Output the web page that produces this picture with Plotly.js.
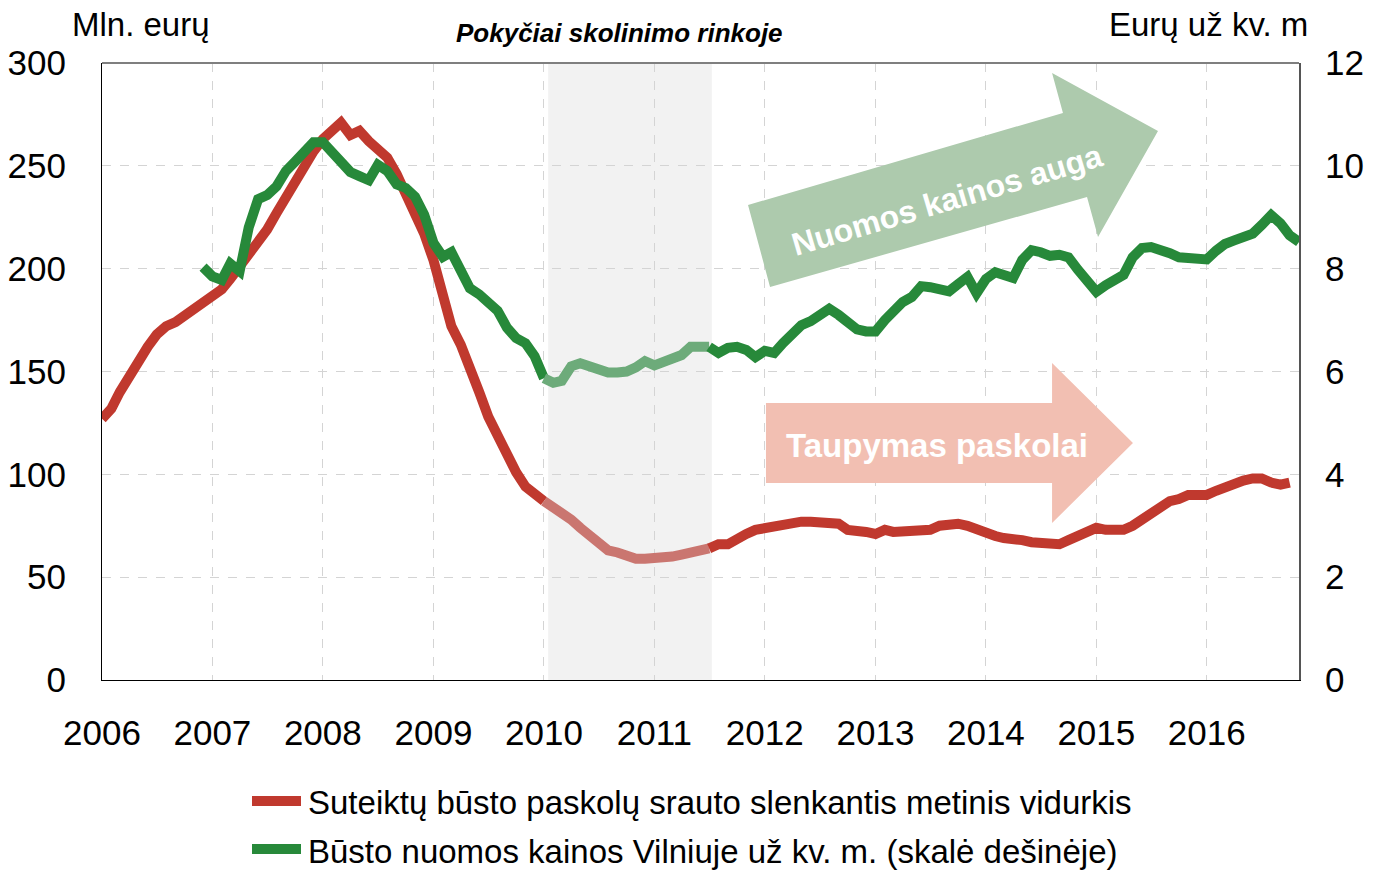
<!DOCTYPE html>
<html>
<head>
<meta charset="utf-8">
<script src="https://cdn.plot.ly/plotly-3.0.1.min.js"></script>
<style>html,body{margin:0;padding:0;background:#fff;}#chart{width:1381px;height:873px;}</style>
</head>
<body>
<div id="chart"></div>
<script>
// ---- Data ----
// Monthly series. Loans: Jan 2006 .. Oct 2016 (Mln. eurų, left axis)
const loanStart = [2006, 1];
const loanValues = [
 127,132,140,148,155,162,168,172,174,177,181,183,
 186,190,195,201,207,213,219,227,235,243,250,257,
 263,268,271,265,267,262,258,254,246,237,228,217,
 204,189,172,163,150,140,128,118,110,101,94,90,
 87,84,82,78,74,70,66,63,62,60,59,59,
 59,60,60,61,62,63,64,66,66,69,71,73,
 74,75,76,77,77,77,77,77,76,73,73,72,
 71,73,72,72,73,73,73,75,76,76,75,73,
 71,70,69,69,68,67,67,66,66,68,70,72,
 74,73,73,73,75,78,82,85,87,88,90,90,
 90,92,94,96,97,98,98,96,95,96
];
// Rent prices in Vilnius: Dec 2006 .. Nov 2016 (EUR per sq. m, right axis)
const rentStart = [2006, 12];
const rentValues = [
 8.03,
 7.85,7.78,8.10,7.95,8.80,9.35,9.43,9.60,9.90,10.08,10.25,10.46,
 10.46,10.25,10.05,9.88,9.80,9.72,10.02,9.90,9.64,9.57,9.40,9.05,
 8.50,8.23,8.32,8.00,7.62,7.50,7.35,7.18,6.85,6.65,6.55,6.30,
 5.87,5.78,5.82,6.10,6.16,6.10,6.00,5.98,5.98,6.00,6.08,6.20,
 6.12,6.20,6.28,6.32,6.48,6.50,6.48,6.36,6.46,6.48,6.42,6.28,
 6.40,6.36,6.55,6.75,6.90,6.98,7.08,7.22,7.10,6.95,6.82,6.78,
 6.78,7.00,7.18,7.35,7.45,7.66,7.64,7.60,7.56,7.70,7.84,7.52,
 7.80,7.93,7.88,7.82,8.17,8.36,8.32,8.25,8.27,8.22,7.98,7.75,
 7.55,7.68,7.78,7.88,8.22,8.40,8.42,8.37,8.30,8.22,8.20,8.22,
 8.18,8.35,8.48,8.55,8.62,8.68,8.85,9.04,8.88,8.65,8.52
];
const shadeStart = '2010-01-15';
const shadeEnd = '2011-07-10';
const segStart = '2010-01-01';
const segEnd = '2011-07-01';
const yearTicks = ['2006','2007','2008','2009','2010','2011','2012','2013','2014','2015','2016'];
const seriesNames = [
 'Suteiktų būsto paskolų srauto slenkantis metinis vidurkis',
 'Būsto nuomos kainos Vilniuje už kv. m. (skalė dešinėje)'
];
const chartTitle = 'Pokyčiai skolinimo rinkoje';
const leftUnit = 'Mln. eurų';
const rightUnit = 'Eurų už kv. m';
const arrowTexts = ['Nuomos kainos auga', 'Taupymas paskolai'];

// ---- Build ----
function dates(start, n) {
  const out = [];
  let y = start[0], m = start[1];
  for (let i = 0; i < n; i++) {
    out.push(y + '-' + String(m).padStart(2, '0') + '-01');
    m++; if (m > 12) { m = 1; y++; }
  }
  return out;
}
function split(xs, ys) {
  const a = {x: [], y: []}, b = {x: [], y: []}, c = {x: [], y: []};
  xs.forEach((d, i) => {
    if (d <= segStart) { a.x.push(d); a.y.push(ys[i]); }
    if (d >= segStart && d <= segEnd) { b.x.push(d); b.y.push(ys[i]); }
    if (d >= segEnd) { c.x.push(d); c.y.push(ys[i]); }
  });
  return [a, b, c];
}
const FONT = '"Liberation Sans Narrow", "Arial Narrow", "Liberation Sans", Arial, sans-serif';
const RED = '#c0392e', RED_F = '#ca7670';
const GREEN = '#27893a', GREEN_F = '#6dab7a';
const LW = 10;

const lx = dates(loanStart, loanValues.length);
const rx = dates(rentStart, rentValues.length);
const ls = split(lx, loanValues);
const rs = split(rx, rentValues);

const traces = [];
ls.forEach((s, i) => traces.push({
  x: s.x, y: s.y, type: 'scatter', mode: 'lines', yaxis: 'y', showlegend: false, hoverinfo: 'skip',
  line: {color: i === 1 ? RED_F : RED, width: LW, shape: 'linear'}
}));
rs.forEach((s, i) => traces.push({
  x: s.x, y: s.y, type: 'scatter', mode: 'lines', yaxis: 'y2', showlegend: false, hoverinfo: 'skip',
  line: {color: i === 1 ? GREEN_F : GREEN, width: LW, shape: 'linear'}
}));

// pixel -> paper helpers for decorations (plot area 102..1299 x 63..680)
const PX = p => (p - 102) / 1197;
const PY = p => (680 - p) / 617;
function path(pts) {
  return 'M' + pts.map(p => PX(p[0]).toFixed(4) + ',' + PY(p[1]).toFixed(4)).join(' L') + ' Z';
}

const shapes = [
  {type: 'rect', xref: 'x', yref: 'paper', x0: shadeStart, x1: shadeEnd, y0: 0, y1: 1,
   fillcolor: '#f2f2f2', line: {width: 0}, layer: 'below'},
  // green arrow
  {type: 'path', xref: 'paper', yref: 'paper', layer: 'above', fillcolor: '#adcaad', line: {width: 0},
   path: path([[748,205],[1063,113],[1052,73],[1158,131],[1098,237],[1087,197],[770,287]])},
  // red arrow
  {type: 'path', xref: 'paper', yref: 'paper', layer: 'above', fillcolor: '#f2bfb2', line: {width: 0},
   path: path([[766,403],[1052,403],[1052,363],[1133,443],[1052,523],[1052,483],[766,483]])},
  // custom legend line samples
  {type: 'line', xref: 'paper', yref: 'paper', x0: PX(252), x1: PX(301), y0: PY(801), y1: PY(801),
   line: {color: RED, width: 10}},
  {type: 'line', xref: 'paper', yref: 'paper', x0: PX(252), x1: PX(301), y0: PY(849), y1: PY(849),
   line: {color: GREEN, width: 10}},
  {type: 'line', xref: 'paper', yref: 'paper', x0: 0, x1: 1, y0: 1, y1: 1, line: {color: '#7f7f7f', width: 2}}
];

const annotations = [
  {text: leftUnit, xref: 'paper', yref: 'paper', x: PX(141), y: PY(25), showarrow: false,
   xanchor: 'center', yanchor: 'middle', font: {family: FONT, size: 33, color: '#000'}},
  {text: rightUnit, xref: 'paper', yref: 'paper', x: PX(1208), y: PY(25), showarrow: false,
   xanchor: 'center', yanchor: 'middle', font: {family: FONT, size: 33, color: '#000'}},
  {text: '<b><i>' + chartTitle + '</i></b>', xref: 'paper', yref: 'paper', x: PX(619), y: PY(33), showarrow: false,
   xanchor: 'center', yanchor: 'middle', font: {family: FONT, size: 26, color: '#000'}},
  {text: '<b>' + arrowTexts[0] + '</b>', xref: 'paper', yref: 'paper', x: PX(947), y: PY(200), showarrow: false,
   xanchor: 'center', yanchor: 'middle', textangle: -16.4, font: {family: FONT, size: 32, color: '#fff'}},
  {text: '<b>' + arrowTexts[1] + '</b>', xref: 'paper', yref: 'paper', x: PX(937), y: PY(445), showarrow: false,
   xanchor: 'center', yanchor: 'middle', font: {family: FONT, size: 33, color: '#fff'}},
  {text: seriesNames[0], xref: 'paper', yref: 'paper', x: PX(306), y: PY(802), showarrow: false,
   xanchor: 'left', yanchor: 'middle', font: {family: FONT, size: 33, color: '#000'}},
  {text: seriesNames[1], xref: 'paper', yref: 'paper', x: PX(306), y: PY(851), showarrow: false,
   xanchor: 'left', yanchor: 'middle', font: {family: FONT, size: 33, color: '#000'}}
];

const grid = {gridcolor: '#d4d4d4', griddash: 'dash', gridwidth: 1};
const layout = {
  width: 1381, height: 873,
  margin: {l: 102, r: 82, t: 63, b: 193, pad: 0},
  paper_bgcolor: '#fff', plot_bgcolor: '#fff',
  font: {family: FONT, size: 34, color: '#000'},
  showlegend: false,
  xaxis: Object.assign({
    type: 'date', range: ['2006-01-01', '2016-11-01'],
    tickvals: yearTicks.map(y => y + '-01-01'), ticktext: yearTicks,
    showline: true, linecolor: '#000', linewidth: 1, mirror: false,
    ticks: 'outside', ticklen: 22, tickcolor: 'rgba(0,0,0,0)', showgrid: true, zeroline: false,
    tickfont: {family: FONT, size: 35, color: '#000'}
  }, grid),
  yaxis: Object.assign({
    range: [0, 300], tickvals: [0,50,100,150,200,250,300],
    showline: true, linecolor: '#000', linewidth: 1,
    ticks: 'outside', ticklen: 28, tickcolor: 'rgba(0,0,0,0)', showgrid: true, zeroline: false,
    tickfont: {family: FONT, size: 35, color: '#000'}
  }, grid),
  yaxis2: {
    range: [0, 12], tickvals: [0,2,4,6,8,10,12], overlaying: 'y', side: 'right',
    showline: true, linecolor: '#555', linewidth: 2, showgrid: false, zeroline: false,
    ticks: 'outside', ticklen: 17, tickcolor: 'rgba(0,0,0,0)',
    tickfont: {family: FONT, size: 35, color: '#000'}
  },
  shapes: shapes,
  annotations: annotations
};
Plotly.newPlot('chart', traces, layout, {staticPlot: true, displayModeBar: false});
</script>
</body>
</html>
